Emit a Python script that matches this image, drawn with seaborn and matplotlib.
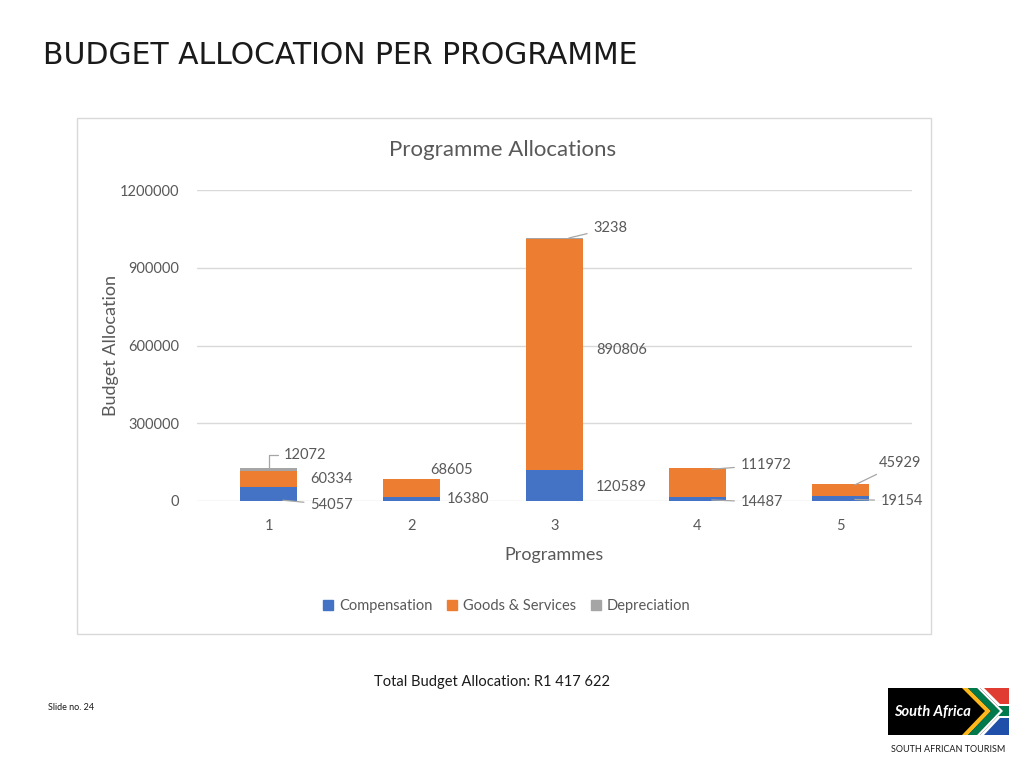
import matplotlib.pyplot as plt
import pandas as pd
import seaborn as sns
from matplotlib.patches import Rectangle, Polygon
from matplotlib.lines import Line2D

# Data
programmes = ["1", "2", "3", "4", "5"]
compensation = [54057, 16380, 120589, 14487, 19154]
goods_services = [60334, 68605, 890806, 111972, 45929]
depreciation = [12072, 0, 3238, 0, 0]
total_label = "Total Budget Allocation: R1 417 622"

df = pd.DataFrame(
    {
        "Programme": programmes,
        "Compensation": compensation,
        "Goods & Services": goods_services,
        "Depreciation": depreciation,
    }
)
df["base_goods"] = df["Compensation"]
df["base_dep"] = df["Compensation"] + df["Goods & Services"]

colors = {"Compensation": "#4472C4", "Goods & Services": "#ED7D31", "Depreciation": "#A5A5A5"}
txt = "#595959"

sns.set_theme(style="white")
plt.rcParams["font.family"] = ["Lato", "DejaVu Sans"]

fig = plt.figure(figsize=(10.24, 7.68), dpi=100)


def px(x, y):
    return (x / 1024, 1 - y / 768)


# Slide title and chart panel
fig.text(*px(43, 55), "BUDGET ALLOCATION PER PROGRAMME", fontsize=21.5,
         color="#1a1a1a", va="center", ha="left", family=["DejaVu Sans"])
fig.patches.append(Rectangle(px(77, 634), 854 / 1024, 516 / 768, transform=fig.transFigure,
                             facecolor="white", edgecolor="#D9D9D9", lw=1, zorder=-5))

ax = fig.add_axes([197 / 1024, 1 - 501 / 768, 715 / 1024, 311 / 768])
ax.set_facecolor("none")

sns.barplot(data=df, x="Programme", y="Compensation", color=colors["Compensation"],
            width=0.4, saturation=1, linewidth=0, ax=ax)
sns.barplot(data=df, x="Programme", y="Goods & Services", bottom=df["base_goods"],
            color=colors["Goods & Services"], width=0.4, saturation=1, linewidth=0, ax=ax)
sns.barplot(data=df, x="Programme", y="Depreciation", bottom=df["base_dep"],
            color=colors["Depreciation"], width=0.4, saturation=1, linewidth=0, ax=ax)

ax.set_xlim(-0.5, 4.5)
ax.set_ylim(0, 1200000)
ax.set_yticks([0, 300000, 600000, 900000, 1200000])
ax.set_yticklabels(["0", "300000", "600000", "900000", "1200000"])
ax.grid(axis="y", color="#D9D9D9", lw=1)
ax.set_axisbelow(True)
for s in ax.spines.values():
    s.set_visible(False)
ax.tick_params(axis="both", length=0, labelsize=10.5, labelcolor=txt, pad=13)
ax.set_xlabel("Programmes", fontsize=13, color=txt, labelpad=10)
ax.set_ylabel("Budget Allocation", fontsize=13, color=txt, labelpad=0)
fig.text(*px(503, 150), "Programme Allocations", fontsize=16, color=txt, ha="center", va="center")

# Data labels (bar index, value, x offset from bar centre, label y, leader target y, leader kind)
label_layout = [
    # programme 1
    (0, depreciation[0], 0.11, 177000, df["base_dep"][0] + depreciation[0], "elbow"),
    (0, goods_services[0], 0.29, 85000, None, None),
    (0, compensation[0], 0.29, -15000, 3000, "line"),
    # programme 2
    (1, goods_services[1], 0.13, 120000, None, None),
    (1, compensation[1], 0.25, 8000, None, None),
    # programme 3
    (2, depreciation[2], 0.27, 1053000, df["base_dep"][2] + depreciation[2], "line"),
    (2, goods_services[2], 0.29, 583000, None, None),
    (2, compensation[2], 0.29, 54000, None, None),
    # programme 4
    (3, goods_services[3], 0.30, 139000, df["base_dep"][3] - 4000, "line"),
    (3, compensation[3], 0.30, -4000, 4000, "line"),
    # programme 5
    (4, goods_services[4], 0.27, 147000, df["base_dep"][4] - 3000, "line"),
    (4, compensation[4], 0.28, 0, 6000, "line"),
]
for i, val, dx, ly, ty, kind in label_layout:
    if kind is None:
        ax.text(i + dx, ly, str(val), fontsize=10.5, color=txt, va="center", ha="left", clip_on=False)
    else:
        tx = i if kind == "elbow" else i + 0.1
        cs = "angle,angleA=180,angleB=90,rad=0" if kind == "elbow" else "arc3"
        ax.annotate(str(val), xy=(tx, ty), xytext=(i + dx, ly), fontsize=10.5, color=txt,
                    va="center", ha="left", annotation_clip=False,
                    arrowprops=dict(arrowstyle="-", color="#A6A6A6", lw=0.9,
                                    connectionstyle=cs, shrinkA=2, shrinkB=0))

# Legend
handles = [Line2D([], [], marker="s", ls="", color=c, markersize=6.5, label=k) for k, c in colors.items()]
fig.legend(handles=handles, loc="center", bbox_to_anchor=px(505, 606), ncol=3, frameon=False,
           fontsize=10.5, labelcolor=txt, handletextpad=0.2, columnspacing=0.8, handlelength=1.1)

# Footer
fig.text(*px(492, 682), total_label, fontsize=10.5, color="#1a1a1a", ha="center", va="center")
fig.text(*px(48, 708), "Slide no. 24", fontsize=6.5, color="#1a1a1a", ha="left", va="center")

# Logo
fig.patches.append(Rectangle(px(888, 735), 121 / 1024, 47 / 768, transform=fig.transFigure,
                             facecolor="black", edgecolor="none"))


def chevron(a1, a2, color):
    pts = [px(a1, 688), px(a2, 688), px(a2 + 23, 711), px(a2, 735), px(a1, 735), px(a1 + 23, 711)]
    fig.patches.append(Polygon(pts, closed=True, transform=fig.transFigure, facecolor=color, edgecolor="none"))


fig.patches.append(Polygon([px(980, 688), px(1009, 688), px(1009, 735), px(980, 735), px(1003, 711)],
                           closed=True, transform=fig.transFigure, facecolor="white", edgecolor="none"))
fig.patches.append(Polygon([px(984, 688), px(1009, 688), px(1009, 704), px(1000, 704)],
                           closed=True, transform=fig.transFigure, facecolor="#E03C31", edgecolor="none"))
fig.patches.append(Polygon([px(1000, 718), px(1009, 718), px(1009, 735), px(984, 735)],
                           closed=True, transform=fig.transFigure, facecolor="#1F4FA8", edgecolor="none"))
fig.patches.append(Rectangle(px(995, 716), 14 / 1024, 10 / 768, transform=fig.transFigure,
                             facecolor="#007A4D", edgecolor="none"))
chevron(962, 968, "#FFB81C")
chevron(968, 977, "#007A4D")
chevron(977, 980, "white")
fig.text(*px(932, 712), "South Africa", fontsize=10.5, color="white", style="italic",
         ha="center", va="center", weight="bold")
fig.text(*px(948, 749), "SOUTH AFRICAN TOURISM", fontsize=6.5, color="#1a1a1a", ha="center", va="center")

fig.savefig("out.png", dpi=100)
